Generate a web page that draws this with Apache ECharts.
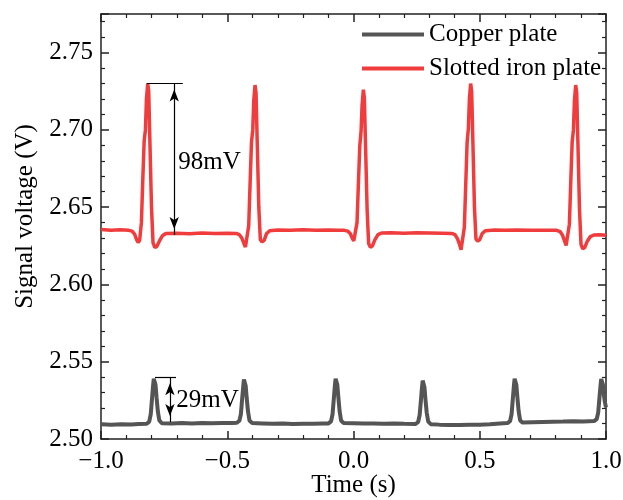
<!DOCTYPE html>
<html>
<head>
<meta charset="utf-8">
<script src="https://cdn.jsdelivr.net/npm/echarts@6/dist/echarts.min.js"></script>
<style>
  html, body { margin: 0; padding: 0; background: #fff; }
  #chart { width: 623px; height: 500px; }
</style>
</head>
<body>
<div id="chart"></div>
<script>
// Series names
const seriesNames = ['Copper plate', 'Slotted iron plate'];

// Copper plate signal: [time (s), voltage (V)]
const copperData = [
  [-1.000, 2.5095], [-0.960, 2.5092], [-0.920, 2.5096], [-0.880, 2.5094], [-0.850, 2.5097], [-0.819, 2.5098],
  [-0.809, 2.5112], [-0.803, 2.5160], [-0.798, 2.5260], [-0.794, 2.5340], [-0.791, 2.5390], [-0.788, 2.5400],
  [-0.784, 2.5350], [-0.780, 2.5270], [-0.775, 2.5180], [-0.769, 2.5120], [-0.759, 2.5102],
  [-0.720, 2.5100], [-0.680, 2.5103], [-0.640, 2.5101], [-0.600, 2.5104], [-0.560, 2.5102], [-0.520, 2.5103],
  [-0.480, 2.5104], [-0.462, 2.5105],
  [-0.452, 2.5118], [-0.446, 2.5160], [-0.441, 2.5260], [-0.437, 2.5335], [-0.434, 2.5385], [-0.431, 2.5395],
  [-0.427, 2.5345], [-0.423, 2.5265], [-0.418, 2.5180], [-0.412, 2.5120], [-0.402, 2.5104],
  [-0.360, 2.5101], [-0.320, 2.5098], [-0.280, 2.5100], [-0.240, 2.5097], [-0.200, 2.5099], [-0.160, 2.5098],
  [-0.120, 2.5100], [-0.099, 2.5101],
  [-0.089, 2.5114], [-0.083, 2.5160], [-0.078, 2.5260], [-0.074, 2.5340], [-0.071, 2.5390], [-0.068, 2.5400],
  [-0.064, 2.5350], [-0.060, 2.5270], [-0.055, 2.5180], [-0.049, 2.5118], [-0.039, 2.5103],
  [0.000, 2.5102], [0.040, 2.5100], [0.080, 2.5101], [0.120, 2.5099], [0.160, 2.5100], [0.200, 2.5098], [0.246, 2.5097],
  [0.256, 2.5110], [0.262, 2.5155], [0.267, 2.5250], [0.271, 2.5330], [0.274, 2.5378], [0.277, 2.5385],
  [0.281, 2.5335], [0.285, 2.5255], [0.290, 2.5170], [0.296, 2.5112], [0.306, 2.5096],
  [0.340, 2.5093], [0.380, 2.5091], [0.420, 2.5090], [0.460, 2.5092], [0.500, 2.5093], [0.540, 2.5096],
  [0.580, 2.5100], [0.610, 2.5103],
  [0.620, 2.5115], [0.626, 2.5160], [0.631, 2.5260], [0.635, 2.5340], [0.638, 2.5390], [0.641, 2.5400],
  [0.645, 2.5350], [0.649, 2.5270], [0.654, 2.5180], [0.660, 2.5120], [0.670, 2.5106],
  [0.710, 2.5108], [0.750, 2.5110], [0.790, 2.5112], [0.830, 2.5113], [0.870, 2.5115], [0.910, 2.5114], [0.953, 2.5116],
  [0.963, 2.5128], [0.969, 2.5170], [0.974, 2.5265], [0.978, 2.5340], [0.981, 2.5388], [0.984, 2.5397],
  [0.988, 2.5350], [0.992, 2.5280], [0.996, 2.5235], [1.000, 2.5205]
];

// Slotted iron plate signal: [time (s), voltage (V)]
const ironData = [
  [-1.000, 2.6355], [-0.960, 2.6350], [-0.925, 2.6354], [-0.890, 2.6350],
  [-0.877, 2.6345], [-0.867, 2.6325], [-0.859, 2.6290], [-0.853, 2.6272], [-0.847, 2.6285], [-0.840, 2.6400],
  [-0.834, 2.6700], [-0.829, 2.6930], [-0.824, 2.7000], [-0.820, 2.7200], [-0.815, 2.7300], [-0.811, 2.7250],
  [-0.806, 2.6900], [-0.800, 2.6500], [-0.794, 2.6270], [-0.787, 2.6240], [-0.779, 2.6245], [-0.769, 2.6280],
  [-0.757, 2.6315], [-0.743, 2.6330],
  [-0.700, 2.6332], [-0.650, 2.6328], [-0.600, 2.6333], [-0.550, 2.6330], [-0.500, 2.6332], [-0.465, 2.6330],
  [-0.452, 2.6322], [-0.442, 2.6300], [-0.434, 2.6265], [-0.428, 2.6242], [-0.422, 2.6250], [-0.415, 2.6380],
  [-0.409, 2.6680], [-0.404, 2.6920], [-0.399, 2.7000], [-0.395, 2.7190], [-0.390, 2.7290], [-0.386, 2.7240],
  [-0.381, 2.6900], [-0.375, 2.6500], [-0.369, 2.6290], [-0.362, 2.6275], [-0.354, 2.6285], [-0.344, 2.6330],
  [-0.332, 2.6348],
  [-0.300, 2.6352], [-0.250, 2.6350], [-0.200, 2.6354], [-0.150, 2.6351], [-0.100, 2.6353], [-0.060, 2.6350],
  [-0.036, 2.6350], [-0.023, 2.6345], [-0.013, 2.6330], [-0.005, 2.6300], [0.001, 2.6282], [0.007, 2.6290],
  [0.014, 2.6400], [0.020, 2.6680], [0.025, 2.6900], [0.030, 2.6990], [0.034, 2.7160], [0.039, 2.7260],
  [0.043, 2.7210], [0.048, 2.6880], [0.054, 2.6480], [0.060, 2.6265], [0.067, 2.6240], [0.075, 2.6250],
  [0.085, 2.6290], [0.097, 2.6322], [0.111, 2.6333],
  [0.150, 2.6335], [0.200, 2.6332], [0.250, 2.6334], [0.300, 2.6333], [0.350, 2.6332], [0.389, 2.6330],
  [0.402, 2.6322], [0.412, 2.6295], [0.420, 2.6260], [0.426, 2.6225], [0.432, 2.6235], [0.439, 2.6370],
  [0.445, 2.6670], [0.450, 2.6920], [0.455, 2.7010], [0.459, 2.7200], [0.464, 2.7300], [0.468, 2.7250],
  [0.473, 2.6910], [0.479, 2.6500], [0.485, 2.6295], [0.492, 2.6280], [0.500, 2.6290], [0.510, 2.6330],
  [0.522, 2.6348],
  [0.560, 2.6352], [0.600, 2.6350], [0.650, 2.6352], [0.700, 2.6350], [0.750, 2.6351], [0.805, 2.6350],
  [0.818, 2.6342], [0.828, 2.6318], [0.836, 2.6280], [0.842, 2.6252], [0.848, 2.6262], [0.855, 2.6390],
  [0.861, 2.6690], [0.866, 2.6920], [0.871, 2.7000], [0.875, 2.7190], [0.880, 2.7290], [0.884, 2.7240],
  [0.889, 2.6900], [0.895, 2.6490], [0.901, 2.6260], [0.908, 2.6230], [0.916, 2.6240], [0.926, 2.6280],
  [0.938, 2.6310], [0.952, 2.6320], [0.975, 2.6322], [1.000, 2.6318]
];

// Peak-to-baseline spans: [low V, high V]
const ironSpan = [2.632, 2.730];
const copperSpan = [2.511, 2.540];

// Where the span arrows and their cap lines sit in time (s)
const ironArrowT = -0.710;
const ironCapT = [-0.819, -0.676];
const ironLabelPos = [-0.694, 2.679];
const copperArrowT = -0.727;
const copperCapT = [-0.786, -0.703];
const copperLabelPos = [-0.702, 2.525];

// Axis ticks
const xTicks = { min: -1.0, max: 1.0, step: 0.5 };
const yTicks = { min: 2.50, max: 2.775, step: 0.05 };

const FONT = '"Liberation Serif", "Times New Roman", Times, serif';
const AXIS_COLOR = '#222';
const COPPER_COLOR = '#555555';
const IRON_COLOR = '#f03c3c';

const toMilliVolt = span => Math.round((span[1] - span[0]) * 1000) + 'mV';
const minus = s => s.replace('-', '\u2212');

function baseAxis(extra) {
  return Object.assign({
    type: 'value',
    axisLine: { show: true, onZero: false, lineStyle: { color: AXIS_COLOR, width: 1.5 } },
    axisTick: { show: true, inside: true, length: 8, lineStyle: { color: AXIS_COLOR, width: 1.5 } },
    minorTick: { show: true, splitNumber: 5, length: 4, lineStyle: { color: AXIS_COLOR, width: 1.2 } },
    splitLine: { show: false },
    minorSplitLine: { show: false }
  }, extra);
}

function spanMarks(span, arrowT, capT, labelPos) {
  return {
    markLine: {
      silent: true,
      animation: false,
      symbol: ['none', 'none'],
      label: { show: false },
      lineStyle: { color: '#000', width: 1.2, type: 'solid' },
      emphasis: { disabled: true },
      data: [
        [{ coord: [capT[0], span[1]] }, { coord: [capT[1], span[1]] }],
        [
          { coord: [arrowT, span[0]], symbol: 'arrow', symbolSize: [7, 12], symbolOffset: [0, 6] },
          { coord: [arrowT, span[1]], symbol: 'arrow', symbolSize: [7, 12], symbolOffset: [0, 6] }
        ]
      ]
    },
    markPoint: {
      silent: true,
      animation: false,
      symbol: 'circle',
      symbolSize: 0,
      itemStyle: { color: 'rgba(0,0,0,0)' },
      label: {
        show: true,
        position: 'right',
        distance: 0,
        color: '#000',
        fontFamily: FONT,
        fontSize: 25,
        formatter: toMilliVolt(span)
      },
      data: [{ coord: labelPos }]
    }
  };
}

const chart = echarts.init(document.getElementById('chart'), null, { renderer: 'canvas' });

chart.setOption({
  animation: false,
  backgroundColor: '#ffffff',
  grid: { left: 101, right: 17, top: 14, bottom: 61, containLabel: false, outerBoundsMode: 'none' },
  legend: {
    data: seriesNames,
    orient: 'vertical',
    left: 357,
    top: 17,
    itemGap: 9,
    itemWidth: 62,
    itemHeight: 4,
    icon: 'rect',
    selectedMode: false,
    textStyle: { fontFamily: FONT, fontSize: 25, color: '#000', lineHeight: 24 }
  },
  xAxis: [
    baseAxis({
      position: 'bottom',
      min: xTicks.min, max: xTicks.max, interval: xTicks.step,
      axisLabel: {
        fontFamily: FONT, fontSize: 25, color: '#000', margin: 10,
        formatter: v => minus(v.toFixed(1))
      },
      name: 'Time (s)',
      nameLocation: 'middle',
      nameGap: 34,
      nameMoveOverlap: false,
      nameTextStyle: { fontFamily: FONT, fontSize: 25, color: '#000' }
    }),
    baseAxis({
      position: 'top',
      min: xTicks.min, max: xTicks.max, interval: xTicks.step,
      axisLabel: { show: false }
    })
  ],
  yAxis: [
    baseAxis({
      position: 'left',
      min: yTicks.min, max: yTicks.max, interval: yTicks.step,
      axisLabel: {
        fontFamily: FONT, fontSize: 25, color: '#000', margin: 8,
        showMaxLabel: false,
        formatter: v => v.toFixed(2)
      },
      name: 'Signal voltage (V)',
      nameLocation: 'middle',
      nameGap: 62,
      nameTextStyle: { fontFamily: FONT, fontSize: 25, color: '#000', padding: [0, 0, 0, 20] }
    }),
    baseAxis({
      position: 'right',
      min: yTicks.min, max: yTicks.max, interval: yTicks.step,
      axisLabel: { show: false }
    })
  ],
  series: [
    Object.assign({
      name: seriesNames[0],
      type: 'line',
      xAxisIndex: 0,
      yAxisIndex: 0,
      data: copperData,
      symbol: 'none',
      showSymbol: false,
      lineStyle: { color: COPPER_COLOR, width: 4 },
      itemStyle: { color: COPPER_COLOR },
      emphasis: { disabled: true },
      z: 2
    }, spanMarks(copperSpan, copperArrowT, copperCapT, copperLabelPos)),
    Object.assign({
      name: seriesNames[1],
      type: 'line',
      xAxisIndex: 0,
      yAxisIndex: 0,
      data: ironData,
      symbol: 'none',
      showSymbol: false,
      lineStyle: { color: IRON_COLOR, width: 3.5 },
      itemStyle: { color: IRON_COLOR },
      emphasis: { disabled: true },
      z: 2
    }, spanMarks(ironSpan, ironArrowT, ironCapT, ironLabelPos))
  ]
});
</script>
</body>
</html>
